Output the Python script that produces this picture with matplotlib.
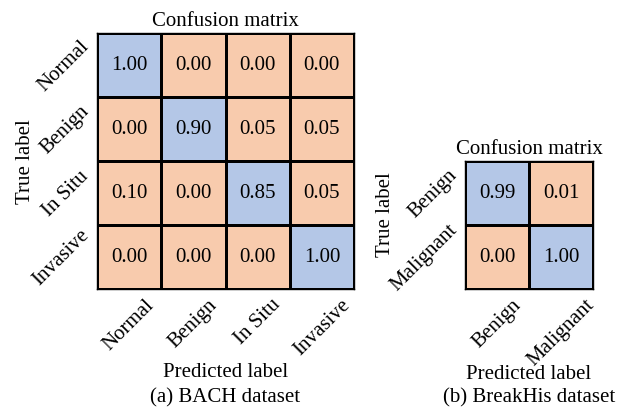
import numpy as np
import matplotlib
matplotlib.use("Agg")
import matplotlib.pyplot as plt
from matplotlib.colors import ListedColormap, BoundaryNorm

plt.rcParams['font.family'] = ['Liberation Serif', 'DejaVu Serif']
plt.rcParams['font.size'] = 15

# data
bach_labels = ['Normal', 'Benign', 'In Situ', 'Invasive']
bach_cm = np.array([
    [1.00, 0.00, 0.00, 0.00],
    [0.00, 0.90, 0.05, 0.05],
    [0.10, 0.00, 0.85, 0.05],
    [0.00, 0.00, 0.00, 1.00],
])
bh_labels = ['Benign', 'Malignant']
bh_cm = np.array([
    [0.99, 0.01],
    [0.00, 1.00],
])

cmap = ListedColormap(['#F8CBAD', '#B4C7E7'])
norm = BoundaryNorm([0, 0.5, 1.01], 2)


def draw_cm(ax, cm, labels, caption, ylab_xy, xlab_y, cap_y):
    n = len(labels)
    ax.pcolormesh(np.arange(n + 1) - 0.5, np.arange(n + 1) - 0.5, cm,
                  cmap=cmap, norm=norm, edgecolors='black', linewidth=1.0)
    ax.set_xlim(-0.5, n - 0.5)
    ax.set_ylim(n - 0.5, -0.5)
    for i in range(n):
        for j in range(n):
            ax.text(j, i, f'{cm[i, j]:.2f}', ha='center', va='center')
    ax.set_xticks(range(n))
    ax.set_yticks(range(n))
    ax.set_xticklabels(labels, rotation=45)
    ax.set_yticklabels(labels, rotation=45, va='center')
    ax.tick_params(length=0)
    ax.tick_params(axis='x', pad=4)
    ax.tick_params(axis='y', pad=3)
    ax.set_title('Confusion matrix', fontsize=15, pad=6)
    ax.set_ylabel('True label', va='center')
    ax.yaxis.set_label_coords(*ylab_xy)
    ax.set_xlabel('Predicted label', va='center')
    ax.xaxis.set_label_coords(0.5, xlab_y)
    ax.text(0.5, cap_y, caption, transform=ax.transAxes,
            ha='center', va='center')
    for s in ax.spines.values():
        s.set_linewidth(1.0)


fig = plt.figure(figsize=(6.21, 4.10), dpi=100)
ax1 = fig.add_axes([97 / 621, 120 / 410, 257 / 621, 256 / 410])
ax2 = fig.add_axes([465 / 621, 120 / 410, 128 / 621, 128 / 410])

draw_cm(ax1, bach_cm, bach_labels, '(a) BACH dataset',
        (-0.28, 0.5), -0.324, -0.422)
draw_cm(ax2, bh_cm, bh_labels, '(b) BreakHis dataset',
        (-0.625, 0.586), -0.66, -0.844)

fig.savefig('out.png', dpi=100)
